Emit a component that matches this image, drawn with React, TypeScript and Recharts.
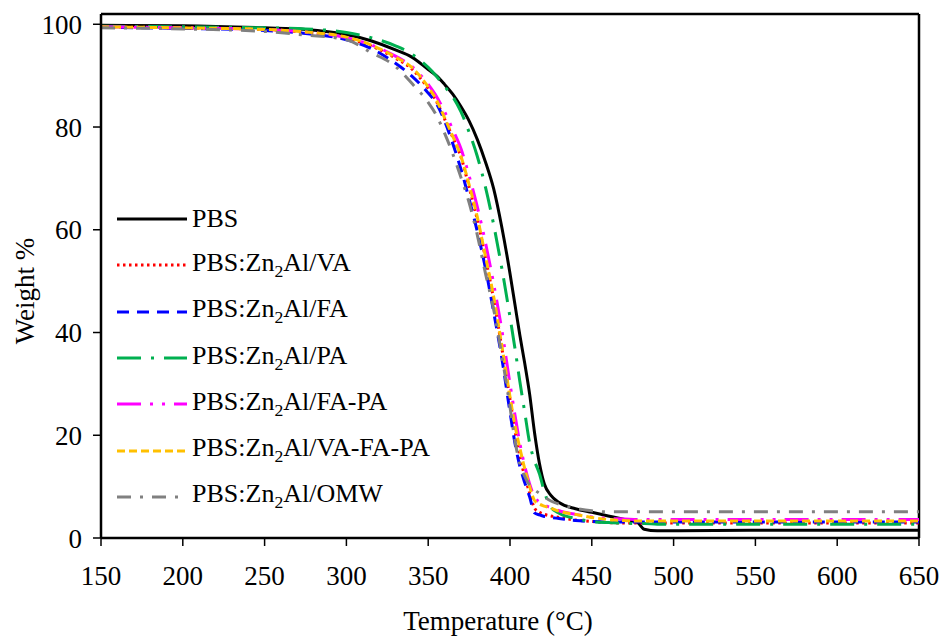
import React from "react"
import { LineChart, Line, XAxis, YAxis, Legend, ReferenceLine } from "recharts"

// temperature grid (°C) shared by all the TGA curves
const TEMPS = [150, 200, 250, 275, 300, 315, 330, 340, 350, 355, 360, 365, 370, 375, 380, 385, 390, 395, 400, 403, 406, 409, 412, 415, 418, 421, 425, 430, 440, 450, 460, 470, 478, 482, 490, 500, 550, 600, 650]

const PBS = [99.8, 99.7, 99.3, 99.0, 98.0, 96.8, 95.0, 93.6, 91.2, 90.0, 88.3, 86.4, 84.0, 81.2, 77.6, 73.2, 68.0, 60.5, 51.5, 45.5, 39.5, 34.0, 28.0, 20.5, 14.5, 10.5, 8.3, 6.9, 5.7, 5.0, 4.3, 3.6, 3.0, 1.7, 1.4, 1.4, 1.5, 1.5, 1.5]
const VA = [99.5, 99.3, 99.0, 98.4, 97.3, 95.8, 93.4, 91.3, 87.5, 85.0, 81.6, 78.0, 74.2, 68.3, 62.0, 54.5, 46.5, 37.0, 27.0, 21.0, 16.0, 12.0, 8.8, 5.8, 5.0, 4.6, 4.3, 4.0, 3.5, 3.2, 3.0, 2.9, 2.9, 2.9, 2.9, 2.9, 2.9, 2.9, 2.9]
const FA = [99.4, 99.2, 98.8, 98.2, 97.0, 95.3, 92.4, 89.9, 86.6, 84.6, 81.2, 76.8, 71.8, 66.0, 59.7, 52.5, 44.0, 35.0, 24.5, 18.5, 14.0, 10.8, 8.0, 4.9, 4.5, 4.2, 4.0, 3.8, 3.4, 3.2, 3.1, 3.1, 3.1, 3.1, 3.1, 3.1, 3.1, 3.1, 3.1]
const PA = [99.6, 99.5, 99.3, 99.1, 98.4, 97.4, 95.8, 94.2, 91.6, 89.9, 87.9, 85.9, 83.0, 79.0, 74.3, 68.3, 61.0, 52.5, 43.0, 37.0, 30.5, 24.5, 18.5, 15.0, 12.5, 9.0, 6.0, 4.8, 3.8, 3.2, 3.0, 2.9, 2.8, 2.8, 2.7, 2.7, 2.7, 2.7, 2.7]
const FA_PA = [99.5, 99.3, 99.0, 98.5, 97.4, 96.0, 93.8, 91.8, 88.3, 86.0, 83.0, 79.5, 75.8, 70.5, 64.5, 57.5, 49.5, 40.5, 30.0, 24.0, 18.5, 14.0, 10.5, 8.0, 7.0, 6.4, 5.9, 5.3, 4.6, 4.1, 3.8, 3.7, 3.6, 3.6, 3.6, 3.6, 3.6, 3.6, 3.6]
const VA_FA_PA = [99.5, 99.3, 99.0, 98.5, 97.5, 96.0, 93.6, 91.6, 87.8, 85.3, 81.8, 78.2, 74.3, 68.8, 62.5, 54.8, 47.0, 37.5, 27.5, 22.0, 17.5, 13.5, 10.0, 7.3, 6.6, 6.2, 5.8, 5.2, 4.6, 4.0, 3.6, 3.4, 3.3, 3.3, 3.3, 3.3, 3.3, 3.3, 3.3]
const OMW = [99.3, 99.1, 98.6, 97.9, 97.0, 94.5, 91.8, 88.5, 84.8, 82.3, 78.8, 74.8, 70.2, 65.3, 59.0, 51.5, 44.5, 35.5, 25.5, 19.0, 14.5, 12.0, 10.3, 9.4, 8.7, 8.0, 7.2, 6.6, 5.8, 5.3, 5.1, 5.1, 5.1, 5.1, 5.1, 5.1, 5.1, 5.1, 5.1]

const X_TICKS = [150, 200, 250, 300, 350, 400, 450, 500, 550, 600, 650]
const Y_TICKS = [0, 20, 40, 60, 80, 100]

const FONT = "Liberation Serif, DejaVu Serif"

const SERIES = [
  { key: "pbs", name: "PBS", values: PBS, color: "#000000", dash: undefined, width: 3 },
  { key: "va", name: "PBS:Zn2Al/VA", values: VA, color: "#FF0000", dash: "2.5 3.5", width: 3 },
  { key: "fa", name: "PBS:Zn2Al/FA", values: FA, color: "#0000FF", dash: "12 8", width: 3 },
  { key: "pa", name: "PBS:Zn2Al/PA", values: PA, color: "#00B050", dash: "24 10 3 10", width: 3 },
  { key: "fapa", name: "PBS:Zn2Al/FA-PA", values: FA_PA, color: "#FF00FF", dash: "24 9 3 9 3 9", width: 3 },
  { key: "vafapa", name: "PBS:Zn2Al/VA-FA-PA", values: VA_FA_PA, color: "#FFC000", dash: "8 4", width: 3 },
  { key: "omw", name: "PBS:Zn2Al/OMW", values: OMW, color: "#808080", dash: "14 9 3 9", width: 3 },
]

const data = TEMPS.map((t, i) => {
  const row: Record<string, number> = { t }
  SERIES.forEach((s) => {
    row[s.key] = s.values[i]
  })
  return row
})

const renderName = (name: string) => {
  const idx = name.indexOf("Zn2Al")
  if (idx < 0) return name
  return (
    <>
      {name.slice(0, idx)}Zn<sub style={{ fontSize: "0.68em", verticalAlign: "-0.35em" }}>2</sub>Al{name.slice(idx + 5)}
    </>
  )
}

const LegendBox = () => (
  <div style={{ fontFamily: FONT, fontSize: 26, color: "#000" }}>
    {SERIES.map((s) => (
      <div key={s.key} style={{ display: "flex", alignItems: "center", height: 46.3 }}>
        <svg width={72} height={10}>
          <line x1={1} y1={5} x2={71} y2={5} stroke={s.color} strokeWidth={s.width} strokeDasharray={s.dash} />
        </svg>
        <span style={{ marginLeft: 4, lineHeight: 1, whiteSpace: "nowrap" }}>{renderName(s.name)}</span>
      </div>
    ))}
  </div>
)

const YTitle = (props: any) => {
  const { x, y, height } = props.viewBox
  const cx = x - 6
  const cy = y + height / 2 + 15
  return (
    <text x={cx} y={cy} transform={`rotate(-90 ${cx} ${cy})`} textAnchor="middle" dominantBaseline="central"
      style={{ fontFamily: FONT }} fontSize={27} fill="#000">
      Weight %
    </text>
  )
}

const XTitle = (props: any) => {
  const { x, y, width } = props.viewBox
  return (
    <text x={x + width / 2 - 12} y={y + 92} textAnchor="middle" style={{ fontFamily: FONT }} fontSize={27} fill="#000">
      Temperature (°C)
    </text>
  )
}

const tickStyle = { style: { fontFamily: FONT }, fontSize: 27, fill: "#000" }

export default function App() {
  return (
    <div style={{ position: "absolute", left: 0, top: 0, fontFamily: FONT }}>
      <LineChart width={946} height={643} data={data} margin={{ top: 14, right: 27, left: 31, bottom: 45 }}>
        <XAxis
          dataKey="t"
          type="number"
          domain={[150, 650]}
          ticks={X_TICKS}
          allowDataOverflow
          height={60}
          tick={tickStyle}
          tickSize={8}
          tickMargin={20}
          axisLine={{ stroke: "#000", strokeWidth: 2.5 }}
          tickLine={{ stroke: "#000", strokeWidth: 1.5 }}
          label={{ content: XTitle }}
        />
        <YAxis
          type="number"
          domain={[0, 102]}
          ticks={Y_TICKS}
          allowDataOverflow
          width={70}
          tick={tickStyle}
          tickSize={8}
          tickMargin={11}
          axisLine={{ stroke: "#000", strokeWidth: 2.5 }}
          tickLine={{ stroke: "#000", strokeWidth: 1.5 }}
          label={{ content: YTitle }}
        />
        <ReferenceLine y={102} stroke="#000" strokeWidth={2.5} />
        <ReferenceLine x={650} stroke="#000" strokeWidth={2.5} />
        {SERIES.map((s) => (
          <Line
            key={s.key}
            dataKey={s.key}
            name={s.name}
            type="monotone"
            stroke={s.color}
            strokeWidth={s.width}
            strokeDasharray={s.dash}
            dot={false}
            activeDot={false}
            isAnimationActive={false}
          />
        ))}
        <Legend
          layout="vertical"
          align="center"
          verticalAlign="middle"
          content={<LegendBox />}
          wrapperStyle={{ left: 116, top: 196, width: "auto", height: "auto" }}
        />
      </LineChart>
    </div>
  )
}
